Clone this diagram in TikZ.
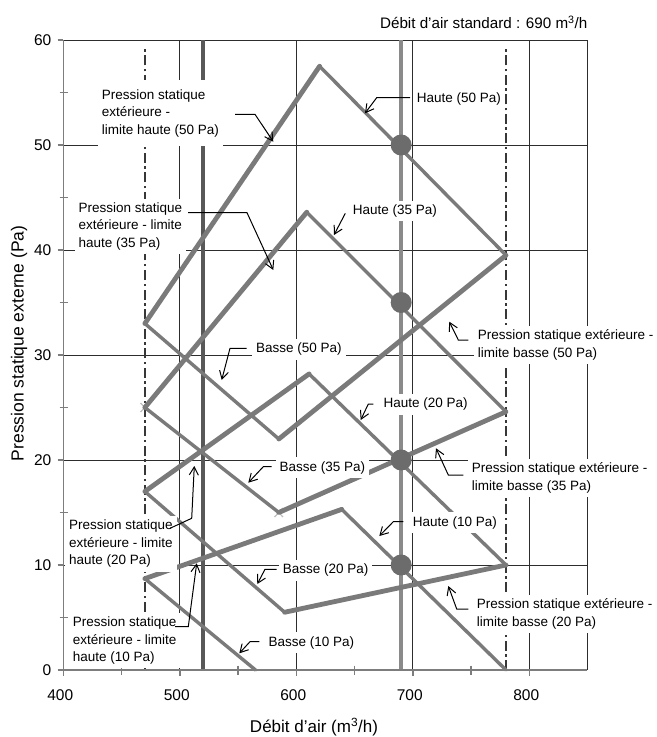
\documentclass[tikz,border=0pt]{standalone}
\usepackage{fontspec}
\setmainfont{Liberation Sans}
\usetikzlibrary{arrows.meta}
\definecolor{cv}{RGB}{122,122,122}
\definecolor{dotc}{RGB}{108,108,108}
\definecolor{vfive}{RGB}{88,88,88}
\definecolor{vsix}{RGB}{138,138,138}
\definecolor{axc}{RGB}{125,125,125}
\definecolor{gridc}{RGB}{45,45,45}
\definecolor{dashc}{RGB}{55,55,55}
\definecolor{xmk}{RGB}{190,190,190}
\begin{document}
\begin{tikzpicture}[x=1bp,y=-1bp,
  gridln/.style={draw=gridc, line width=0.8bp},
  axln/.style={draw=axc, line width=1.4bp},
  dashdot/.style={draw=dashc, line width=1.3bp, dash pattern=on 10bp off 3.5bp on 2.5bp off 3.5bp},
  hbline/.style={draw=cv, line width=3.4bp, line cap=round, line join=round},
  limline/.style={draw=cv, line width=4.8bp, line cap=round, line join=round},
  ptdot/.style={circle, fill=dotc, inner sep=0pt, minimum size=21bp},
  lbl/.style={fill=white, inner sep=4bp, align=left, anchor=west, font=\fontsize{13.5bp}{17.6bp}\selectfont},
  callout/.style={draw=black, line width=1bp, -{Straight Barb[length=8bp,width=9bp]}},
  ticklbl/.style={font=\fontsize{15.5bp}{18bp}\selectfont, inner sep=0pt},
]
\useasboundingbox (0,0) rectangle (657,737);

% ---------- data space ----------
\begin{scope}[shift={(-402.7,670)}, x=1.165bp, y=10.5bp]
  % grid
  \foreach \v in {10,20,...,60} \draw[gridln] (400,\v) -- (850,\v);
  \foreach \u in {500,600,700,800,850} \draw[gridln] (\u,0) -- (\u,60);
  % reference verticals
  \draw[dashdot] (470,0) -- (470,59.4);
  \draw[dashdot] (780,0) -- (780,59.4);
  \draw[draw=vfive, line width=4bp] (520,0) -- (520,60);
  \draw[draw=vsix, line width=4bp] (690,0) -- (690,60);
\end{scope}

% light cross marks
\draw[draw=xmk, line width=1.2bp] (140.5,403) -- (149,412) (140.5,412) -- (149,403);
\draw[draw=xmk, line width=1.2bp] (274.5,508) -- (283,517) (274.5,517) -- (283,508);

\begin{scope}[shift={(-402.7,670)}, x=1.165bp, y=10.5bp]
  % 50 Pa
  \draw[limline] (470,33) -- (620,57.5);
  \draw[hbline]  (620,57.5) -- (780,39.5);
  \draw[limline] (585,22) -- (780,39.5);
  \draw[hbline]  (470,33) -- (585,22);
  % 35 Pa
  \draw[limline] (470,25) -- (609,43.6);
  \draw[hbline]  (609,43.6) -- (780,24.6);
  \draw[limline] (585,15) -- (780,24.6);
  \draw[hbline]  (470,25) -- (585,15);
  % 20 Pa
  \draw[limline] (470,17) -- (611,28.2);
  \draw[hbline]  (611,28.2) -- (780,10);
  \draw[limline] (590,5.5) -- (780,10);
  \draw[hbline]  (470,17) -- (590,5.5);
  % 10 Pa
  \draw[limline] (470,8.7) -- (639,15.3);
  \draw[hbline]  (639,15.3) -- (780,0);
  \draw[hbline]  (470,8.7) -- (565,0);
  % operating points
  \node[ptdot] (d50) at (690,50) {};
  \node[ptdot] (d35) at (690,35) {};
  \node[ptdot] (d20) at (690,20) {};
  \node[ptdot] (d10) at (690,10) {};
\end{scope}

% axes and ticks
\draw[axln] (63.3,40) -- (63.3,670) -- (587,670);
\foreach \v in {0,10,...,60} \draw[axln] (57.5,{670-10.5*\v}) -- (63.3,{670-10.5*\v});
\foreach \v in {5,15,...,55} \draw[axln] (59.5,{670-10.5*\v}) -- (67.5,{670-10.5*\v});
\foreach \u in {400,500,...,800} \draw[axln] ({63.3+1.165*(\u-400)},670) -- ({63.3+1.165*(\u-400)},676);
\foreach \u in {450,550,...,750} \draw[axln] ({63.3+1.165*(\u-400)},665.5) -- ({63.3+1.165*(\u-400)},674.5);

\foreach \v in {0,10,...,60} \node[ticklbl, anchor=east] (yt\v) at (51.5,{670-10.5*\v}) {\v};
\foreach \u in {400,500,...,800} \node[ticklbl] (xt\u) at ({60.3+1.165*(\u-400)},695) {\u};

% labels
\node[lbl, inner ysep=9bp] (L1) at (97.7,113.3) {Pression statique\\extérieure -\\limite haute (50 Pa)};
\node[lbl] (L2) at (74.3,226.5) {Pression statique\\extérieure - limite\\haute (35 Pa)};
\node[lbl] (L3) at (412.7,98.7) {Haute (50 Pa)};
\node[lbl] (L4) at (348.7,211) {Haute (35 Pa)};
\node[lbl] (L5) at (252,349.3) {Basse (50 Pa)};
\node[lbl] (L6) at (473.7,344.8) {Pression statique extérieure -\\limite basse (50 Pa)};
\node[lbl] (L7) at (379.3,404.3) {Haute (20 Pa)};
\node[lbl] (L8) at (275.3,467.7) {Basse (35 Pa)};
\node[lbl] (L9) at (467.7,478.2) {Pression statique extérieure -\\limite basse (35 Pa)};
\node[lbl] (L10) at (408.7,522.7) {Haute (10 Pa)};
\node[lbl] (L11) at (278.7,570.3) {Basse (20 Pa)};
\node[lbl] (L12) at (264.3,642.7) {Basse (10 Pa)};
\node[lbl] (L13) at (65,543.7) {Pression statique\\extérieure - limite\\haute (20 Pa)};
\node[lbl] (L14) at (68.7,640.5) {Pression statique\\extérieure - limite\\haute (10 Pa)};
\node[lbl] (L15) at (472.7,614) {Pression statique extérieure -\\limite basse (20 Pa)};

% callout end points
\coordinate (s1) at (235,114.3);   \coordinate (t1) at (273.3,141.7);
\coordinate (s2) at (188,212.7);   \coordinate (t2) at (273.3,270);
\coordinate (s3) at (410,97.7);    \coordinate (t3) at (365,113.3);
\coordinate (s4) at (345.3,213.3); \coordinate (t4) at (334,235);
\coordinate (s5) at (246.7,348.3); \coordinate (t5) at (221.7,380);
\coordinate (s6) at (468.3,340);   \coordinate (t6) at (449.3,321.7);
\coordinate (s7) at (373.3,404);   \coordinate (t7) at (360.7,420);
\coordinate (s8) at (271.7,466.7); \coordinate (t8) at (248.3,482.7);
\coordinate (s9) at (463.3,475);   \coordinate (t9) at (436,448.3);
\coordinate (s10) at (403.3,521.7); \coordinate (t10) at (379.3,536);
\coordinate (s11) at (276.7,569.3); \coordinate (t11) at (257.3,584);
\coordinate (s12) at (259.3,641.7); \coordinate (t12) at (239.3,653.3);
\coordinate (s13) at (170,528.3);   \coordinate (t13) at (194.3,466);
\coordinate (s14) at (175,626.7);   \coordinate (t14) at (196.7,563.3);
\coordinate (s15) at (468.3,609);   \coordinate (t15) at (448.3,586);

\draw[callout] (s1) -- ++(20,0) -- (t1);
\draw[callout] (s2) -- ++(59,0) -- (t2);
\draw[callout] (s3) -- ++(-33.3,0) -- (t3);
\draw[callout] (s4) -- (t4);
\draw[callout] (s5) -- ++(-16.7,0) -- (t5);
\draw[callout] (s6) -- ++(-10,0) -- (t6);
\draw[callout] (s7) -- ++(-5,0) -- (t7);
\draw[callout] (s8) -- ++(-8.4,0) -- (t8);
\draw[callout] (s9) -- ++(-15,0) -- (t9);
\draw[callout] (s10) -- ++(-10,0) -- (t10);
\draw[callout] (s11) -- ++(-11.7,0) -- (t11);
\draw[callout] (s12) -- ++(-9.3,0) -- (t12);
\draw[callout] (s13) -- ++(21.7,-10) -- (t13);
\draw[callout] (s14) -- ++(13.3,0) -- (t14);
\draw[callout] (s15) -- ++(-11.6,0) -- (t15);

% titles
\node[anchor=east, inner sep=0pt, font=\fontsize{15.2bp}{18bp}\selectfont] (title) at (587.5,22) {Débit d’air standard : 690 m\textsuperscript{3}/h};
\node[rotate=90, inner sep=0pt, font=\fontsize{17.5bp}{20bp}\selectfont] (ylab) at (19,343.4) {Pression statique externe (Pa)};
\node[inner sep=0pt, font=\fontsize{17bp}{20bp}\selectfont] (xlab) at (314,727) {Débit d’air (m\textsuperscript{3}/h)};
\end{tikzpicture}
\end{document}
